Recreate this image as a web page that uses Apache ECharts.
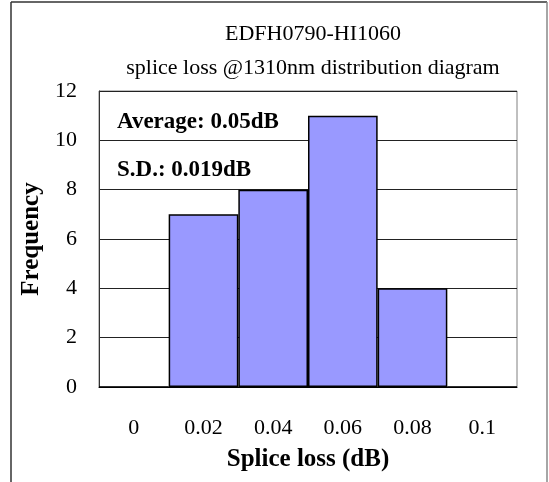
<!DOCTYPE html>
<html>
<head>
<meta charset="utf-8">
<script src="https://cdn.jsdelivr.net/npm/echarts@6/dist/echarts.min.js"></script>
<style>html,body{margin:0;padding:0;background:#fff}#c{width:549px;height:482px}</style>
</head>
<body>
<div id="c"></div>
<script>
const categories = ['0', '0.02', '0.04', '0.06', '0.08', '0.1'];
const frequency = [0, 7, 8, 11, 4, 0];
const titleLines = ['EDFH0790-HI1060', 'splice loss @1310nm distribution diagram'];
const notes = ['Average: 0.05dB', 'S.D.: 0.019dB'];
const xName = 'Splice loss (dB)';
const yName = 'Frequency';

const font = '"Liberation Serif", "Times New Roman", serif';
const chart = echarts.init(document.getElementById('c'), null, {renderer: 'canvas'});
chart.setOption({
  animation: false,
  backgroundColor: '#fff',
  title: [
    {text: titleLines[0], left: 308, top: 18, textAlign: 'center',
     textStyle: {fontFamily: font, fontSize: 22, fontWeight: 'normal', color: '#000'}},
    {text: titleLines[1], left: 308, top: 52, textAlign: 'center',
     textStyle: {fontFamily: font, fontSize: 22, fontWeight: 'normal', color: '#000'}}
  ],
  grid: {left: 99, right: 32, top: 91, bottom: 95, show: true, borderColor: '#808080', borderWidth: 1},
  xAxis: {
    type: 'category', data: categories,
    axisTick: {show: false},
    axisLine: {lineStyle: {color: '#000', width: 1}},
    axisLabel: {fontFamily: font, fontSize: 22, color: '#000', margin: 30},
    name: xName, nameLocation: 'middle', nameGap: 60,
    nameTextStyle: {fontFamily: font, fontSize: 25, fontWeight: 'bold', color: '#000'}
  },
  yAxis: {
    type: 'value', min: 0, max: 12, interval: 2,
    axisLine: {show: true, lineStyle: {color: '#333'}},
    axisTick: {show: false},
    splitLine: {lineStyle: {color: '#222', width: 1}},
    axisLabel: {fontFamily: font, fontSize: 22, color: '#000', margin: 22},
    name: yName, nameLocation: 'middle', nameGap: 55,
    nameTextStyle: {fontFamily: font, fontSize: 25, fontWeight: 'bold', color: '#000'}
  },
  series: [{
    type: 'bar', data: frequency, barCategoryGap: '0%',
    itemStyle: {color: '#9999FF', borderColor: '#000', borderWidth: 1.5}
  }],
  graphic: [
    {type: 'text', left: 117, top: 111, style: {text: notes[0], font: 'bold 23px ' + font, fill: '#000'}},
    {type: 'text', left: 117, top: 159, style: {text: notes[1], font: 'bold 23px ' + font, fill: '#000'}},
    {type: 'line', shape: {x1: 11, y1: 2, x2: 547, y2: 2}, style: {stroke: '#333', lineWidth: 1.5}},
    {type: 'line', shape: {x1: 11, y1: 2, x2: 11, y2: 482}, style: {stroke: '#333', lineWidth: 1.5}},
    {type: 'line', shape: {x1: 547, y1: 2, x2: 547, y2: 482}, style: {stroke: '#888', lineWidth: 1.5}}
  ]
});
</script>
</body>
</html>
